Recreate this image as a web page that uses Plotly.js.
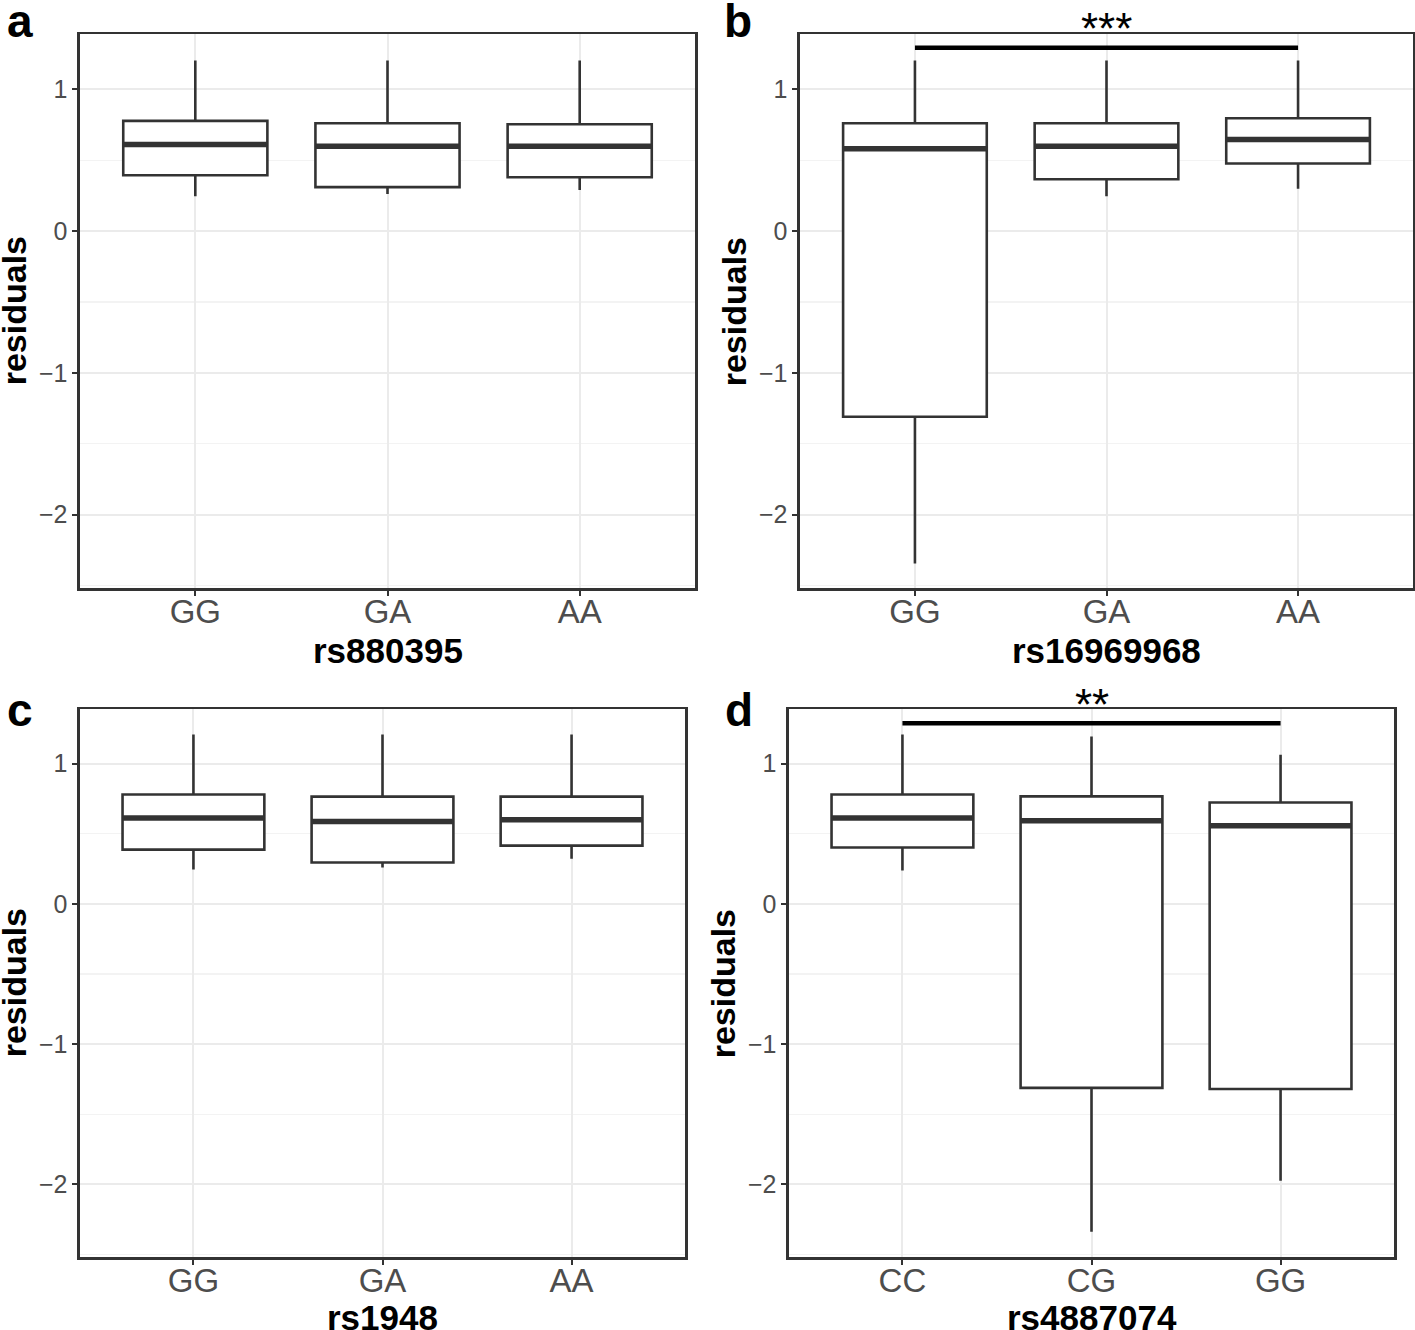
<!DOCTYPE html>
<html>
<head>
<meta charset="utf-8">
<script src="https://cdn.plot.ly/plotly-3.0.1.min.js"></script>
<style>html,body{margin:0;padding:0;background:#fff;}#chart{width:1415px;height:1330px;}</style>
</head>
<body>
<div id="chart"></div>
<script>
// ---- data ----
const panelLetters = ['a', 'b', 'c', 'd'];
const snpNames = ['rs880395', 'rs16969968', 'rs1948', 'rs4887074'];
const yTitle = 'residuals';

const catsA = ['GG', 'GA', 'AA'];
const upperA = [1.204, 1.204, 1.204];
const q3A = [0.777, 0.761, 0.754];
const medA = [0.611, 0.599, 0.599];
const q1A = [0.394, 0.310, 0.380];
const lowerA = [0.246, 0.261, 0.289];

const catsB = ['GG', 'GA', 'AA'];
const upperB = [1.204, 1.204, 1.204];
const q3B = [0.761, 0.761, 0.796];
const medB = [0.580, 0.599, 0.646];
const q1B = [-1.310, 0.366, 0.477];
const lowerB = [-2.345, 0.246, 0.298];

const catsC = ['GG', 'GA', 'AA'];
const upperC = [1.208, 1.208, 1.208];
const q3C = [0.780, 0.765, 0.765];
const medC = [0.613, 0.587, 0.601];
const q1C = [0.387, 0.295, 0.416];
const lowerC = [0.245, 0.259, 0.323];

const catsD = ['CC', 'CG', 'GG'];
const upperD = [1.208, 1.194, 1.063];
const q3D = [0.780, 0.767, 0.723];
const medD = [0.613, 0.594, 0.558];
const q1D = [0.402, -1.312, -1.320];
const lowerD = [0.238, -2.337, -1.974];

const sigPanel = [1, 3];
const sigFrom = ['GG', 'CC'];
const sigTo = ['AA', 'GG'];
const sigY = [1.294, 1.288];
const sigLabel = ['***', '**'];

// ---- layout helpers ----
const W = 1415, H = 1330;
const FONT = 'Liberation Sans, Arial, Helvetica, sans-serif';
const panelsPx = [
  {x0: 80, x1: 695, y0: 34.3, y1: 588.3, lx: 5, ly: 21, xt: 650},
  {x0: 800, x1: 1413, y0: 34.3, y1: 588.3, lx: 722, ly: 21, xt: 650},
  {x0: 80, x1: 685, y0: 709.3, y1: 1257.3, lx: 5, ly: 710, xt: 1317},
  {x0: 789, x1: 1394, y0: 709.3, y1: 1257.3, lx: 723, ly: 710, xt: 1317}
];
const yRange = [-2.52, 1.388];
const boxW = 0.75;
const LINE = '#333333';

const panels = [
  {cats: catsA, up: upperA, q3: q3A, med: medA, q1: q1A, lo: lowerA},
  {cats: catsB, up: upperB, q3: q3B, med: medB, q1: q1B, lo: lowerB},
  {cats: catsC, up: upperC, q3: q3C, med: medC, q1: q1C, lo: lowerC},
  {cats: catsD, up: upperD, q3: q3D, med: medD, q1: q1D, lo: lowerD}
];

const traces = [];
const layout = {
  width: W, height: H,
  margin: {l: 0, r: 0, t: 0, b: 0},
  paper_bgcolor: '#ffffff', plot_bgcolor: '#ffffff',
  showlegend: false,
  font: {family: FONT, color: '#000'},
  annotations: []
};

panels.forEach((p, k) => {
  const sfx = k === 0 ? '' : String(k + 1);
  const xa = 'x' + sfx, ya = 'y' + sfx;
  const idx = p.cats.map((_, i) => i);
  traces.push({
    type: 'box', xaxis: xa, yaxis: ya,
    x: idx, q1: p.q1, median: p.med, q3: p.q3,
    lowerfence: p.lo, upperfence: p.up,
    width: boxW, whiskerwidth: 0, boxpoints: false,
    fillcolor: '#ffffff',
    line: {color: LINE, width: 2.6},
    hoverinfo: 'skip'
  });
  // thicker median bar (ggplot fatten)
  const mx = [], my = [];
  idx.forEach(i => { mx.push(i - boxW / 2, i + boxW / 2, null); my.push(p.med[i], p.med[i], null); });
  traces.push({
    type: 'scatter', mode: 'lines', xaxis: xa, yaxis: ya,
    x: mx, y: my, line: {color: LINE, width: 5.5}, hoverinfo: 'skip'
  });

  const px = panelsPx[k];
  layout['xaxis' + sfx] = {
    domain: [px.x0 / W, px.x1 / W],
    anchor: ya,
    range: [-0.6, 2.6],
    tickmode: 'array', tickvals: idx, ticktext: p.cats,
    showgrid: true, gridcolor: '#ebebeb', gridwidth: 2,
    zeroline: false,
    showline: true, mirror: true, linecolor: LINE, linewidth: 2.6,
    ticks: 'outside', ticklen: 5, tickwidth: 2, tickcolor: LINE,
    ticklabelstandoff: -13,
    tickfont: {family: FONT, size: 33, color: '#4d4d4d'},
    fixedrange: true
  };
  layout['yaxis' + sfx] = {
    domain: [1 - px.y1 / H, 1 - px.y0 / H],
    anchor: xa,
    range: yRange,
    tickmode: 'linear', tick0: 0, dtick: 1,
    showgrid: true, gridcolor: '#ebebeb', gridwidth: 2,
    minor: {dtick: 0.5, tick0: 0, showgrid: true, gridcolor: '#f3f3f3', gridwidth: 1.3, ticks: ''},
    zeroline: false,
    showline: true, mirror: true, linecolor: LINE, linewidth: 2.6,
    ticks: 'outside', ticklen: 5, tickwidth: 2, tickcolor: LINE,
    tickfont: {family: FONT, size: 25, color: '#4d4d4d'},
    fixedrange: true
  };
  // panel letter
  layout.annotations.push({
    xref: 'paper', yref: 'paper',
    x: px.lx / W, y: 1 - px.ly / H,
    xanchor: 'left', yanchor: 'middle',
    text: '<b>' + panelLetters[k] + '</b>', showarrow: false,
    font: {family: FONT, size: 46, color: '#000'}
  });
  // x axis title
  layout.annotations.push({
    xref: 'paper', yref: 'paper',
    x: (px.x0 + px.x1) / 2 / W, y: 1 - px.xt / H,
    xanchor: 'center', yanchor: 'middle',
    text: '<b>' + snpNames[k] + '</b>', showarrow: false,
    font: {family: FONT, size: 35, color: '#000'}
  });
  // y axis title
  layout.annotations.push({
    xref: 'paper', yref: 'paper',
    x: (px.x0 - 66) / W, y: 1 - (px.y0 + px.y1) / 2 / H,
    xanchor: 'center', yanchor: 'middle', textangle: -90,
    text: '<b>' + yTitle + '</b>', showarrow: false,
    font: {family: FONT, size: 34, color: '#000'}
  });
});

sigPanel.forEach((k, j) => {
  const sfx = k === 0 ? '' : String(k + 1);
  const cats = panels[k].cats;
  const a = cats.indexOf(sigFrom[j]), b = cats.indexOf(sigTo[j]);
  traces.push({
    type: 'scatter', mode: 'lines', xaxis: 'x' + sfx, yaxis: 'y' + sfx,
    x: [a, b], y: [sigY[j], sigY[j]], line: {color: '#000', width: 4.5},
    cliponaxis: false, hoverinfo: 'skip'
  });
  layout.annotations.push({
    xref: 'x' + sfx, yref: 'y' + sfx,
    x: (a + b) / 2, y: sigY[j], yanchor: 'middle', yshift: 19,
    text: sigLabel[j], showarrow: false,
    font: {family: FONT, size: 44, color: '#000'}
  });
});

Plotly.newPlot('chart', traces, layout, {displayModeBar: false, staticPlot: true});
</script>
</body>
</html>
